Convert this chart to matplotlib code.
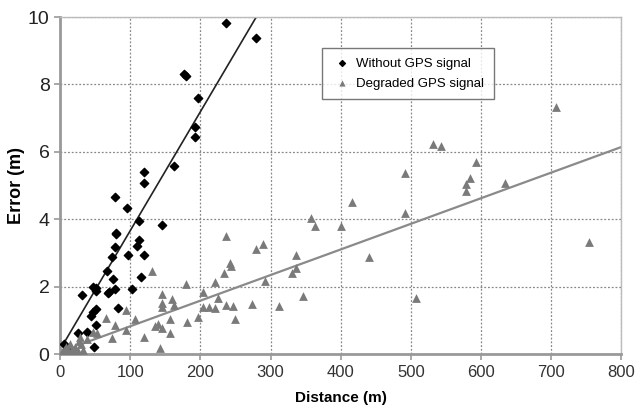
import numpy as np
import matplotlib
matplotlib.use("Agg")
import matplotlib.pyplot as plt

plt.rcParams['font.family'] = ['Liberation Sans', 'DejaVu Sans']

# data
no_gps_dist = [5, 10, 25, 32, 39, 44, 47, 47, 48, 51, 52, 52, 52, 67, 68, 70, 74, 75,
               79, 79, 79, 80, 80, 82, 96, 97, 103, 110, 112, 112, 115, 119, 120, 120,
               146, 163, 176, 180, 193, 193, 197, 236, 280]
no_gps_err = [0.29, 0.15, 0.63, 1.74, 0.66, 1.13, 1.26, 2.0, 0.2, 1.86, 1.95, 1.33, 0.85,
              2.47, 1.82, 1.85, 2.87, 2.24, 3.17, 1.92, 4.67, 3.6, 3.55, 1.36, 4.33, 2.93,
              1.92, 3.2, 3.4, 3.95, 2.3, 5.41, 5.07, 2.93, 3.83, 5.59, 8.31, 8.25, 6.73,
              6.43, 7.6, 9.82, 9.38]

degraded_dist = [3, 6, 9, 12, 14, 17, 20, 22, 25, 27, 30, 33, 38, 47, 29,
                 53, 66, 74, 79, 94, 94, 107, 120, 131, 136, 139, 143, 146, 146, 146, 146,
                 157, 157, 160, 162, 180, 181, 196, 204, 204, 212, 221, 221, 225, 234, 236,
                 236, 242, 243, 246, 249, 274, 279, 289, 292, 312, 331, 336, 336, 346, 357,
                 363, 401, 416, 441, 491, 491, 507, 531, 543, 578, 578, 584, 593, 634, 707,
                 754]
degraded_err = [0.05, 0.12, 0.2, 0.08, 0.3, 0.15, 0.05, 0.22, 0.1, 0.4, 0.3, 0.12, 0.45,
                0.66, 0.5, 0.62, 1.07, 0.47, 0.85, 1.31, 0.72, 1.04, 0.5, 2.47, 0.83, 0.89,
                0.18, 1.78, 1.51, 1.4, 0.77, 1.04, 0.63, 1.63, 1.45, 2.08, 0.95, 1.1, 1.84,
                1.4, 1.39, 1.36, 2.14, 1.67, 2.4, 3.5, 1.45, 2.71, 2.6, 1.42, 1.04, 1.48,
                3.12, 3.26, 2.17, 1.42, 2.4, 2.55, 2.93, 1.72, 4.05, 3.8, 3.8, 4.52, 2.88,
                5.37, 4.18, 1.66, 6.23, 6.18, 4.84, 5.04, 5.22, 5.7, 5.07, 7.33, 3.32]

# trend lines (slope, intercept, x range)
no_gps_fit = (0.0353, 0.13, 4, 280)
degraded_fit = (0.0076, 0.065, 27, 800)

fig = plt.figure(figsize=(6.35, 4.07), dpi=100)
ax = fig.add_axes([0.0945, 0.130, 0.884, 0.828])

ax.scatter(no_gps_dist, no_gps_err, marker='D', s=18, color='black', zorder=3,
           label='Without GPS signal')
ax.scatter(degraded_dist, degraded_err, marker='^', s=40, color='#7a7a7a', zorder=3,
           label='Degraded GPS signal', linewidths=0)

a, b, x0, x1 = no_gps_fit
xs = np.array([x0, x1])
ax.plot(xs, a * xs + b, color='#222222', lw=1.2, zorder=2)
a, b, x0, x1 = degraded_fit
xs = np.array([x0, x1])
ax.plot(xs, a * xs + b, color='#8a8a8a', lw=1.6, zorder=2)

ax.set_xlim(0, 800)
ax.set_ylim(0, 10)
ax.set_xticks(np.arange(0, 801, 100))
ax.set_yticks(np.arange(0, 11, 2))
ax.grid(True, linestyle=(0, (1.5, 1.5)), color='#888888', lw=0.9)
ax.set_axisbelow(True)

for s in ['left', 'bottom']:
    ax.spines[s].set_color('#999999')
    ax.spines[s].set_linewidth(2)
for s in ['top', 'right']:
    ax.spines[s].set_color('#bbbbbb')
    ax.spines[s].set_linewidth(1)
ax.tick_params(axis='x', labelsize=12, colors='#999999', labelcolor='#333333',
               length=4, width=1.2)
ax.tick_params(axis='y', labelsize=14, colors='#999999', labelcolor='#222222',
               length=4, width=1.2)

ax.set_xlabel('Distance (m)', fontsize=11, fontweight='bold', labelpad=8)
ax.set_ylabel('Error (m)', fontsize=13, fontweight='bold', labelpad=2)

leg = ax.legend(loc='upper left', bbox_to_anchor=(0.467, 0.908), fontsize=9.5,
                frameon=True, fancybox=False, handletextpad=0.3, handlelength=1.6,
                borderpad=0.7, labelspacing=0.6, markerscale=0.7, borderaxespad=0)
leg.get_frame().set_edgecolor('#555555')
leg.get_frame().set_linewidth(1)

fig.savefig('out.png', dpi=100)
